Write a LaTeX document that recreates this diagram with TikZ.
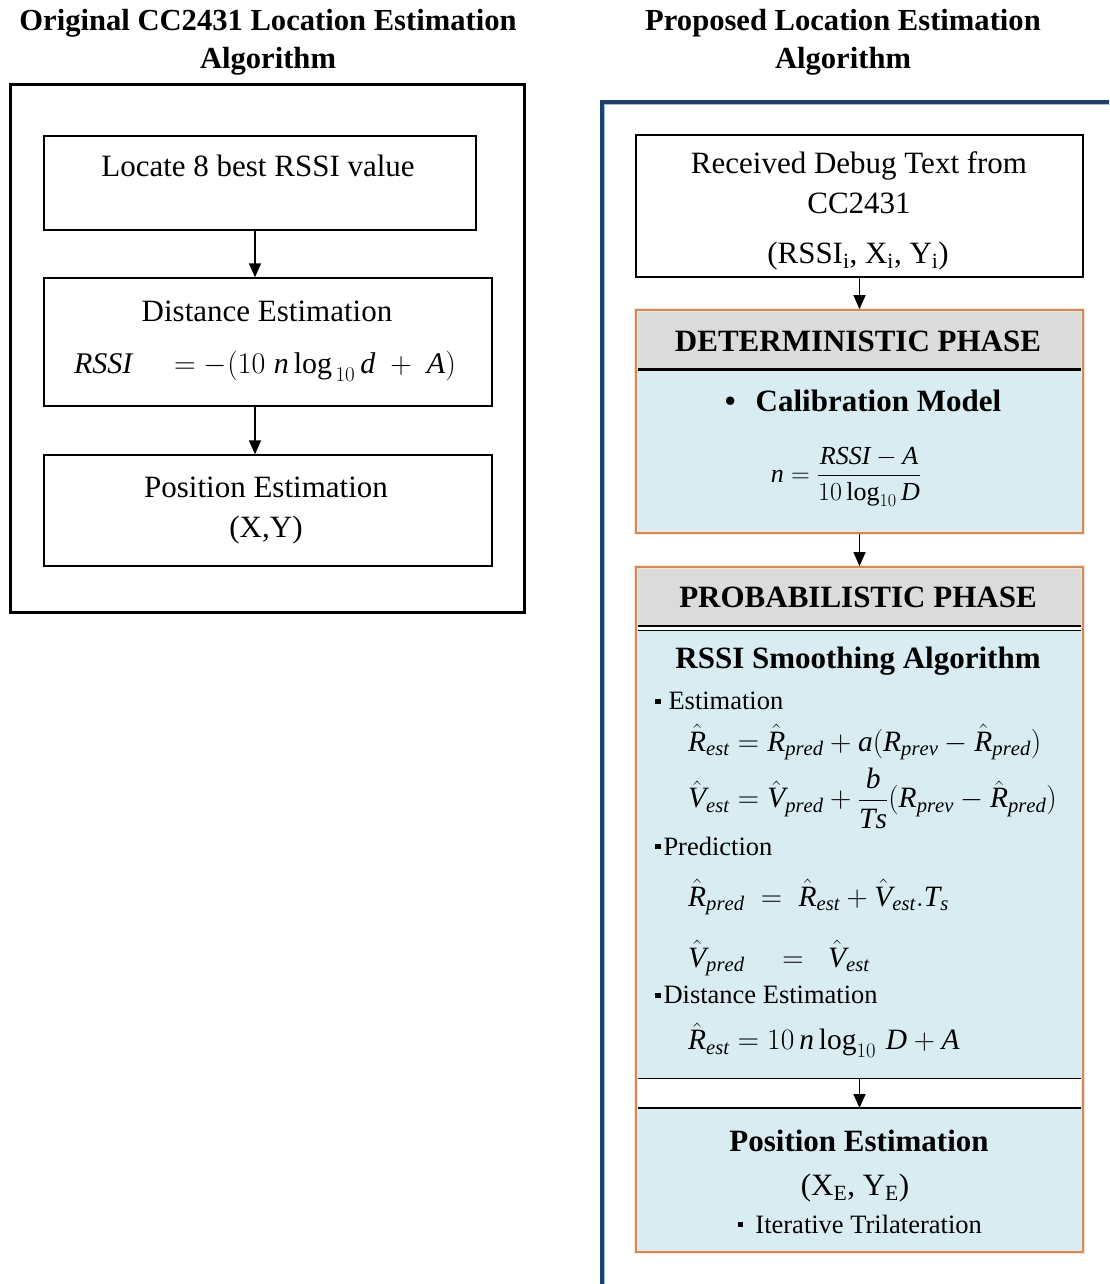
\RequirePackage{fix-cm}
\documentclass[tikz,border=0pt]{standalone}
\usepackage{amsmath}
\usepackage{fontspec}
\setmainfont{Liberation Serif}
\usetikzlibrary{arrows.meta,calc}
\definecolor{navy}{HTML}{1F3F6E}
\definecolor{lightnavy}{HTML}{9CB9DE}
\definecolor{hdrgray}{HTML}{DCDBDB}
\definecolor{bodyblue}{HTML}{D8ECF1}
\definecolor{phaseorange}{HTML}{D08A5E}
\definecolor{glow}{HTML}{F9E4D6}
\newcommand{\sqbul}{\rule[0.22em]{0.2em}{0.2em}}
\newcommand{\mi}[1]{\mathit{#1}}
\newcommand{\hR}{\hat{\mathit{R}}}
\newcommand{\hV}{\hat{\mathit{V}}}
\begin{document}
\begin{tikzpicture}[x=1pt,y=-1pt,
  plainbox/.style={draw=black, line width=1.4pt, inner sep=0pt},
  arr/.style={-{Triangle[length=14pt,width=12pt]}, line width=1.5pt},
  txt/.style={font=\fontsize{31}{37}\selectfont, inner sep=0pt},
  btxt/.style={font=\fontsize{31}{37}\selectfont\bfseries, inner sep=0pt},
  small/.style={font=\fontsize{26.5}{31}\selectfont, inner sep=0pt, anchor=west},
  eq/.style={font=\fontsize{29.5}{35}\selectfont, inner sep=0pt, anchor=west},
  ttl/.style={font=\fontsize{30.6}{38}\selectfont\bfseries, align=center, inner sep=0pt},
  fillbox/.style={inner sep=0pt, minimum width=447},
  phase/.style={draw=phaseorange, line width=1.8pt, inner sep=0pt, minimum width=447,
     preaction={draw=glow, line width=4.5pt}}
]
\useasboundingbox (0,0) rectangle (1109,1284);
\clip (0,0) rectangle (1109,1284);

% ---------- titles ----------
\node[ttl] (ltitle) at (268,42) {Original CC2431 Location Estimation\\Algorithm};
\node[ttl] (rtitle) at (843,42) {Proposed Location Estimation\\Algorithm};

% ---------- left column ----------
\node[draw=black, line width=3pt, inner sep=0pt, minimum width=514, minimum height=527] (lframe) at (267,348.5) {};

\node[plainbox, minimum width=432, minimum height=94] (L1) at (260,183) {};
\node[txt] (L1t) at (258,166) {Locate 8 best RSSI value};

\node[plainbox, minimum width=448, minimum height=128] (L2) at (268,342) {};
\node[txt] (L2t) at (267,311) {Distance Estimation};
\node[txt, font=\fontsize{30}{36}\selectfont] (L2f) at (265,366) {$\mathit{RSSI}\;\;\;\; = -(10\;\mi{n}\log_{\,10} \mi{d} \;+\; \mi{A})$};

\node[plainbox, minimum width=448, minimum height=111] (L3) at (268,510.5) {};
\node[txt] (L3t) at (266,487) {Position Estimation};
\node[txt] (L3f) at (266,530) {(X,Y)};

\coordinate (lx) at (255,0);
\draw[arr] (L1.south -| lx) -- (L2.north -| lx);
\draw[arr] (L2.south -| lx) -- (L3.north -| lx);

% ---------- right column ----------
\node[draw=navy, line width=5pt, inner sep=0pt, minimum width=530, minimum height=1200, anchor=north west] (rframe) at (600,100) {};
\draw[lightnavy, line width=1.2pt] (604.5,1290) -- (604.5,104.5) -- (1115,104.5);

\node[plainbox, minimum width=447, minimum height=142] (RA) at (859.5,206) {};
\node[txt] (RAt1) at (859,166) {Received Debug Text from};
\node[txt] (RAt2) at (859,203) {CC2431};
\node[txt] (RAt3) at (858,256) {(RSSI\textsubscript{i}, X\textsubscript{i}, Y\textsubscript{i})};

% deterministic phase
\node[fillbox, fill=hdrgray, minimum height=59] (dethead) at (859.5,339.5) {};
\node[btxt] (dett) at (858,341) {DETERMINISTIC PHASE};
\node[fillbox, fill=bodyblue, minimum height=164, anchor=north] (detbody) at (859.5,369) {};
\draw[line width=3pt] (dethead.south west) -- (dethead.south east);
\node[phase, minimum height=223] (det) at (859.5,421.5) {};
\node[btxt] (calib) at (863,401) {\textbullet\hspace{20pt}Calibration Model};
\node[txt, font=\fontsize{26}{31}\selectfont] (calibf) at (846,477) {$\mi{n}=\dfrac{\mathit{RSSI}-\mi{A}}{10\log_{10}\mi{D}}$};

% probabilistic phase
\node[fillbox, fill=hdrgray, minimum height=59] (probhead) at (859.5,596.5) {};
\node[btxt] (probt) at (858,597) {PROBABILISTIC PHASE};
\draw[line width=1.5pt] (636,626) -- (1083,626);
\draw[line width=1.5pt] (636,631) -- (1083,631);
\node[fillbox, fill=bodyblue, minimum height=447, anchor=north] (smooth) at (859.5,631) {};
\node[fillbox, fill=bodyblue, minimum height=144, anchor=north] (posbox) at (859.5,1108) {};
\draw[line width=1.5pt] (smooth.south west) -- (smooth.south east);
\draw[line width=1.5pt] (posbox.north west) -- (posbox.north east);
\node[phase, minimum height=685] (prob) at (859.5,909.5) {};

\node[btxt] (smt) at (858,661) {RSSI Smoothing Algorithm};
\node[small] (est) at (655,701) {\sqbul\hspace{8pt}Estimation};
\node[eq] (eq1) at (688,742) {$\hR_{\mi{est}} = \hR_{\mi{pred}} + \mi{a}(\mi{R}_{\mi{prev}} - \hR_{\mi{pred}})$};
\node[eq] (eq2) at (688,798) {$\hV_{\mi{est}} = \hV_{\mi{pred}} + \dfrac{\mi{b}}{\mi{Ts}}(\mi{R}_{\mi{prev}} - \hR_{\mi{pred}})$};
\node[small] (pred) at (655,846) {\sqbul\hspace{3pt}Prediction};
\node[eq] (eq3) at (688,897) {$\hR_{\mi{pred}} \;=\; \hR_{\mi{est}} + \hV_{\mi{est}}.\mi{T}_{\mi{s}}$};
\node[eq] (eq4) at (688,958) {$\hV_{\mi{pred}} \quad=\;\; \hV_{\mi{est}}$};
\node[small] (dist) at (655,995) {\sqbul\hspace{3pt}Distance Estimation};
\node[eq] (eq5) at (688,1040) {$\hR_{\mi{est}} = 10\,\mi{n}\log_{10}\, \mi{D} + \mi{A}$};

\node[btxt] (post) at (859,1141) {Position Estimation};
\node[txt] (posf) at (855,1188) {(X\textsubscript{E}, Y\textsubscript{E})};
\node[small, anchor=center] (iter) at (860,1224) {\sqbul\hspace{12pt}Iterative Trilateration};

% connectors
\draw[arr] (RA.south) -- (det.north);
\draw[arr] (det.south) -- (prob.north);
\draw[arr] (smooth.south) -- (posbox.north);
\end{tikzpicture}
\end{document}
